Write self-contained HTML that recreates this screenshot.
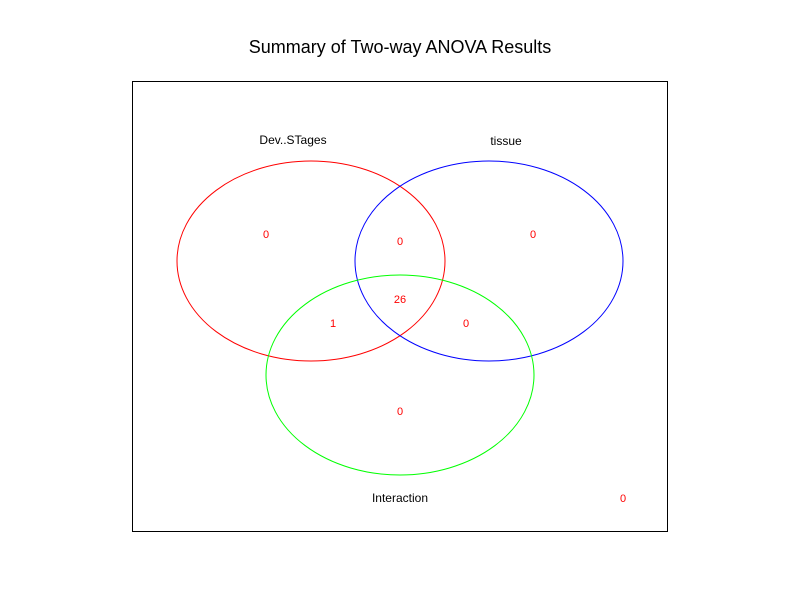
<!DOCTYPE html>
<html><head><style>
html,body{margin:0;padding:0;background:#fff;}
</style></head><body>
<svg width="800" height="600" xmlns="http://www.w3.org/2000/svg" style="display:block">
<rect width="800" height="600" fill="#fff"/>
<text x="400" y="53" font-family="Liberation Sans, sans-serif" font-size="18" text-anchor="middle" fill="#000">Summary of Two-way ANOVA Results</text>
<rect x="132.5" y="81.5" width="535" height="450" fill="none" stroke="#000" stroke-width="1"/>
<ellipse cx="311" cy="261" rx="134" ry="100" fill="none" stroke="#ff0000"/>
<ellipse cx="489" cy="261" rx="134" ry="100" fill="none" stroke="#0000ff"/>
<ellipse cx="400" cy="375" rx="134" ry="100" fill="none" stroke="#00ff00"/>
<g font-family="Liberation Sans, sans-serif" font-size="12" text-anchor="middle">
<text x="293" y="144" fill="#000">Dev..STages</text>
<text x="506" y="145" fill="#000">tissue</text>
<text x="400" y="502" fill="#000">Interaction</text>
<g fill="#ff0000" font-size="11">
<text x="266" y="238">0</text>
<text x="400" y="245">0</text>
<text x="533" y="238">0</text>
<text x="400" y="303">26</text>
<text x="333" y="327">1</text>
<text x="466" y="327">0</text>
<text x="400" y="415">0</text>
<text x="623" y="502">0</text>
</g>
</g>
</svg>
</body></html>
